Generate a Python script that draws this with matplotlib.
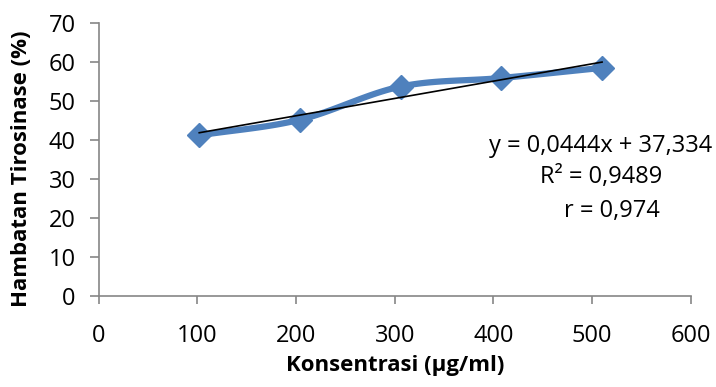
# tyrosinase inhibition vs concentration, with linear trendline

from matplotlib import pyplot as plt
import numpy as np

konsentrasi = [102, 204, 306, 408, 510]
hambatan = [41.2, 45.2, 53.7, 55.9, 58.5]
slope = 0.0444
intercept = 37.334
r2 = 0.9489
r = 0.974
x_ticks = [0, 100, 200, 300, 400, 500, 600]
y_ticks = [0, 10, 20, 30, 40, 50, 60, 70]

plt.rcParams['font.family'] = ['Open Sans', 'DejaVu Sans']


def smooth(xs, ys, n=30):
    # Catmull-Rom curve through the points (like a spreadsheet "smoothed line")
    xs = np.asarray(xs, float)
    ys = np.asarray(ys, float)
    px = np.concatenate([[2 * xs[0] - xs[1]], xs, [2 * xs[-1] - xs[-2]]])
    py = np.concatenate([[2 * ys[0] - ys[1]], ys, [2 * ys[-1] - ys[-2]]])
    out_x, out_y = [], []
    t = np.linspace(0, 1, n)
    for i in range(1, len(px) - 2):
        for arr, out in ((px, out_x), (py, out_y)):
            p0, p1, p2, p3 = arr[i - 1], arr[i], arr[i + 1], arr[i + 2]
            out.extend(0.5 * ((2 * p1) + (-p0 + p2) * t
                              + (2 * p0 - 5 * p1 + 4 * p2 - p3) * t ** 2
                              + (-p0 + 3 * p1 - 3 * p2 + p3) * t ** 3))
    return out_x, out_y


f = plt.figure(figsize=(7.16, 3.87), dpi=100)
ax = f.add_axes([0.1376, 0.235, 0.8274, 0.7056])

blue = '#4f81bd'
sx, sy = smooth(konsentrasi, hambatan)
ax.plot(sx, sy, color=blue, lw=4.5, solid_capstyle='round', zorder=2)
ax.plot(konsentrasi, hambatan, ls='none', marker='D', ms=12.5, color=blue, zorder=3)

trend_x = np.array([konsentrasi[0], konsentrasi[-1]])
ax.plot(trend_x, slope * trend_x + intercept, color='black', lw=1.2, zorder=4)

ax.set_xlim(0, 600)
ax.set_ylim(0, 70)
ax.set_xticks(x_ticks)
ax.set_yticks(y_ticks)

for s in ['top', 'right']:
    ax.spines[s].set_visible(False)
for s in ['left', 'bottom']:
    ax.spines[s].set_color('#868686')
    ax.spines[s].set_linewidth(1.2)
ax.tick_params(width=1.2, color='#868686', labelsize=17)
ax.tick_params(axis='y', length=6.5, pad=10)
ax.tick_params(axis='x', length=6, pad=14)

ax.set_xlabel('Konsentrasi (µg/ml)', fontsize=16, fontweight='bold')
ax.set_ylabel('Hambatan Tirosinase (%)', fontsize=16, fontweight='bold')
ax.xaxis.set_label_coords(0.5, -0.215)
ax.yaxis.set_label_coords(-0.112, 0.465)

eq = ('y = %s' % f'{slope:.4f}x + {intercept:.3f}').replace('.', ',')
ax.text(0.848, 0.548, eq, transform=ax.transAxes, ha='center', va='center', fontsize=17)
ax.text(0.848, 0.437, ('R² = %.4f' % r2).replace('.', ','), transform=ax.transAxes,
        ha='center', va='center', fontsize=17)
ax.text(0.866, 0.313, ('r = %.3f' % r).replace('.', ','), transform=ax.transAxes,
        ha='center', va='center', fontsize=17)

f.savefig('out.png', dpi=100)
